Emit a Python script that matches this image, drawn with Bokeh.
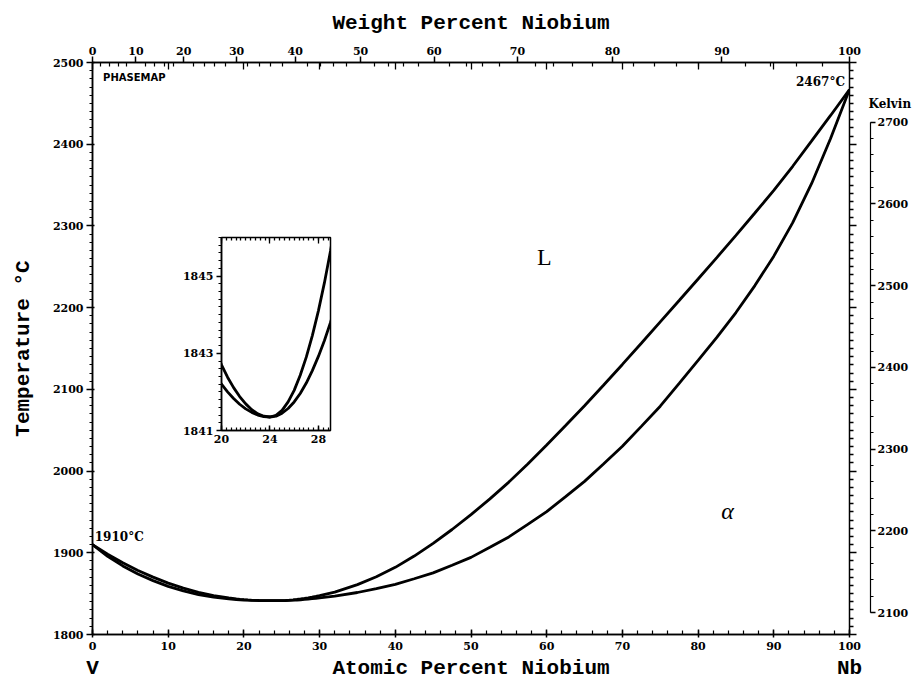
from bokeh.plotting import figure
from bokeh.models import (Range1d, LinearAxis, SingleIntervalTicker, FixedTicker,
                          CustomJSTickFormatter, Label)
from bokeh.layouts import column, row
from bokeh.embed import file_html
from bokeh.resources import INLINE

# ---------------- data ----------------
at_pct = [0, 2, 4, 6, 8, 10, 12, 14, 16, 18, 19, 19.5, 20, 20.5, 21, 21.5, 22, 22.5,
          23, 23.5, 24, 24.5, 25, 25.5, 26, 26.5, 27, 27.5, 28, 28.5, 29, 29.5, 30,
          32, 35, 37.5, 40, 42.5, 45, 47.5, 50, 52.5, 55, 57.5, 60, 62.5, 65, 67.5,
          70, 72.5, 75, 77.5, 80, 82.5, 85, 87.5, 90, 92.5, 95, 97.5, 100]
liquidus = [1910.0, 1898.2, 1887.7, 1878.4, 1870.2, 1862.9, 1856.7, 1851.6, 1847.6,
            1844.7, 1843.55, 1843.09, 1842.70, 1842.38, 1842.11, 1841.88, 1841.69,
            1841.54, 1841.43, 1841.37, 1841.35, 1841.39, 1841.52, 1841.74, 1842.04,
            1842.43, 1842.90, 1843.46, 1844.10, 1844.83, 1845.65, 1846.55, 1847.54,
            1851.8, 1861.0, 1870.6, 1882.2, 1896.0, 1911.6, 1928.5, 1946.7, 1966.0,
            1986.5, 2008.7, 2032.0, 2055.7, 2080.0, 2105.0, 2130.5, 2156.4, 2182.5,
            2208.7, 2235.0, 2261.6, 2288.5, 2315.8, 2343.5, 2373.0, 2404.0, 2435.2,
            2467.0]
solidus = [1910.0, 1895.7, 1883.9, 1874.1, 1865.9, 1858.9, 1853.3, 1848.9, 1845.7,
           1843.5, 1842.75, 1842.46, 1842.20, 1842.00, 1841.83, 1841.68, 1841.56,
           1841.47, 1841.40, 1841.36, 1841.35, 1841.37, 1841.45, 1841.57, 1841.74,
           1841.96, 1842.23, 1842.55, 1842.92, 1843.33, 1843.80, 1844.31, 1844.88,
           1847.0, 1851.4, 1856.2, 1861.4, 1868.2, 1875.4, 1884.7, 1894.4, 1906.7,
           1919.4, 1934.7, 1950.4, 1968.7, 1987.4, 2008.7, 2030.4, 2054.7, 2079.4,
           2107.2, 2135.4, 2164.0, 2194.0, 2227.0, 2263.0, 2304.0, 2352.0, 2407.0,
           2467.0]

at_major = [0, 10, 20, 30, 40, 50, 60, 70, 80, 90, 100]
wt_major = [0, 10, 20, 30, 40, 50, 60, 70, 80, 90, 100]
wt_minor = [w for w in range(0, 101, 2) if w % 10 != 0]
bottom_names = {0: "V", 50: "Atomic Percent Niobium", 100: "Nb"}
celsius_major = list(range(1800, 2501, 100))
celsius_minor = [t for t in range(1800, 2501, 10) if t % 100 != 0]
t_range = (1800, 2500)
kelvin_bounds = (2100, 2700)
inset_x = (20, 29)
inset_y = (1841, 1846)
inset_y_major = [1841, 1843, 1845]
inset_x_major = [20, 24, 28]

M_NB, M_V = 92.906, 50.942
K0 = 273.15

def wt_to_at(w):
    a = w / M_NB
    b = (100 - w) / M_V
    return 100.0 * a / (a + b)

FONT_T = "Liberation Mono"
FONT_N = "DejaVu Serif"

# ---------------- geometry ----------------
H = 684
P_W = 868
P_LEFT, P_TOP, P_BOT = 92, 62, 50
P_RIGHT = P_W - 849
K_W = 924 - P_W
K_TOP = 112
frame_h = H - P_TOP - P_BOT
k_frame_h = H - K_TOP - P_BOT
k_top_val = t_range[0] + K0 + (t_range[1] - t_range[0]) * k_frame_h / frame_h

# ---------------- main figure ----------------
p = figure(width=P_W, height=H, output_backend="svg", toolbar_location=None,
           x_range=Range1d(0, 100), y_range=Range1d(*t_range),
           x_axis_location=None, y_axis_location=None,
           min_border_left=P_LEFT, min_border_right=P_RIGHT,
           min_border_top=P_TOP, min_border_bottom=P_BOT)
p.xgrid.visible = False
p.ygrid.visible = False
p.outline_line_color = "black"
p.outline_line_width = 1.5
p.background_fill_color = "white"
p.border_fill_color = "white"

def style_axis(ax, size="11px"):
    ax.axis_line_color = "black"
    ax.axis_line_width = 1.5
    ax.major_tick_line_color = "black"
    ax.major_tick_line_width = 1.5
    ax.minor_tick_line_color = "black"
    ax.minor_tick_line_width = 1.2
    ax.major_label_text_font = FONT_N
    ax.major_label_text_font_style = "bold"
    ax.major_label_text_font_size = size
    ax.major_label_text_color = "black"
    ax.axis_label_text_font = FONT_T
    ax.axis_label_text_font_style = "bold"
    ax.axis_label_text_font_size = "21px"
    ax.axis_label_text_color = "black"

def tick_only(ticks, tin=0, tout=0, **kw):
    ax = LinearAxis(ticker=FixedTicker(ticks=[], minor_ticks=ticks), **kw)
    ax.axis_line_color = None
    ax.minor_tick_line_color = "black"
    ax.minor_tick_line_width = 1.3
    ax.minor_tick_in = tin
    ax.minor_tick_out = tout
    ax.major_tick_in = 0
    ax.major_tick_out = 0
    return ax

# bottom: atomic percent numbers
xb = LinearAxis(ticker=SingleIntervalTicker(interval=10, num_minor_ticks=5))
style_axis(xb)
xb.major_tick_in = 5
xb.major_tick_out = 3
xb.minor_tick_in = 4
xb.minor_tick_out = 0
xb.major_label_standoff = 4
p.add_layout(xb, "below")

# bottom: V ... Atomic Percent Niobium ... Nb
xb2 = LinearAxis(ticker=FixedTicker(ticks=list(bottom_names.keys())),
                 major_label_overrides=bottom_names)
xb2.axis_line_color = None
xb2.major_tick_in = 0
xb2.major_tick_out = 0
xb2.minor_tick_in = 0
xb2.minor_tick_out = 0
xb2.major_label_text_font = FONT_T
xb2.major_label_text_font_style = "bold"
xb2.major_label_text_font_size = "21px"
xb2.major_label_text_color = "black"
xb2.major_label_standoff = 4
p.add_layout(xb2, "below")

# left: temperature C
yl = LinearAxis(ticker=SingleIntervalTicker(interval=100, num_minor_ticks=10),
                axis_label="Temperature °C")
style_axis(yl)
yl.major_tick_in = 2
yl.major_tick_out = 6
yl.minor_tick_in = 0
yl.minor_tick_out = 3
yl.major_label_standoff = 3
yl.axis_label_standoff = 15
p.add_layout(yl, "left")

# top: inward atomic-percent ticks (no labels)
p.add_layout(tick_only(at_major, tin=7), "above")

# top: weight percent
xt = LinearAxis(ticker=FixedTicker(ticks=[round(wt_to_at(w), 4) for w in wt_major],
                                   minor_ticks=[round(wt_to_at(w), 4) for w in wt_minor]),
                axis_label="Weight Percent Niobium",
                formatter=CustomJSTickFormatter(code="""
                    const w = 100*tick*92.906/(tick*92.906 + (100-tick)*50.942);
                    return Math.round(w).toString();"""))
style_axis(xt)
xt.major_tick_in = 0
xt.major_tick_out = 6
xt.minor_tick_in = 4
xt.minor_tick_out = 0
xt.major_label_standoff = 2
xt.axis_label_standoff = 9
p.add_layout(xt, "above")

# right edge of frame: Celsius ticks, no labels
p.add_layout(tick_only(celsius_minor, tout=4), "right")
p.add_layout(tick_only(celsius_major, tin=4, tout=3), "right")

# curves
p.line(at_pct, liquidus, line_color="black", line_width=2.8)
p.line(at_pct, solidus, line_color="black", line_width=2.8)

def lab(x, y, text, font=FONT_N, size="12px", style="bold", align="left"):
    p.add_layout(Label(x=x, y=y, text=text, text_font=font, text_font_size=size,
                       text_font_style=style, text_align=align, text_baseline="bottom",
                       text_color="black"))

lab(0.3, 1910.8, "1910°C")
lab(99.4, 2467.6, "2467°C", align="right")
lab(1.4, 2475.0, "PHASEMAP", font="DejaVu Sans", size="10px")
lab(59.7, 2245.5, "L", font="Liberation Serif", size="24px", style="normal", align="center")
lab(83.9, 1935.8, "α", font="Liberation Serif", size="24px", style="italic", align="center")

# ---------------- Kelvin scale ----------------
k = figure(width=K_W, height=H, output_backend="svg", toolbar_location=None,
           x_range=Range1d(0, 1), y_range=Range1d(t_range[0] + K0, k_top_val),
           x_axis_location=None, y_axis_location=None,
           min_border_left=0, min_border_right=K_W - 2,
           min_border_top=K_TOP, min_border_bottom=P_BOT, title="Kelvin")
k.xgrid.visible = False
k.ygrid.visible = False
k.outline_line_color = None
k.background_fill_color = "white"
k.border_fill_color = "white"
k.title.text_font = FONT_N
k.title.text_font_style = "bold"
k.title.text_font_size = "12px"
k.title.text_color = "black"
k.title.align = "left"
k.title.offset = 0
k.title.standoff = 3

yk = LinearAxis(bounds=kelvin_bounds,
                ticker=SingleIntervalTicker(interval=100, num_minor_ticks=5))
style_axis(yk)
yk.axis_line_width = 1.2
yk.major_tick_in = 0
yk.major_tick_out = 5
yk.minor_tick_in = 0
yk.minor_tick_out = 3
yk.major_label_standoff = 2
k.add_layout(yk, "right")

# ---------------- inset ----------------
IL, IR, IT, IB = 42, 4, 4, 22
IW, IH = 109, 193
q = figure(width=IL + IW + IR, height=IT + IH + IB, output_backend="svg",
           toolbar_location=None, x_range=Range1d(*inset_x), y_range=Range1d(*inset_y),
           x_axis_location=None, y_axis_location=None,
           min_border_left=IL, min_border_right=IR, min_border_top=IT, min_border_bottom=IB)
q.xgrid.visible = False
q.ygrid.visible = False
q.outline_line_color = "black"
q.outline_line_width = 1.5
q.background_fill_color = "white"
q.border_fill_color = None

qb = LinearAxis(ticker=FixedTicker(ticks=inset_x_major,
                                   minor_ticks=[inset_x[0] + 0.4 * i for i in range(23)]))
style_axis(qb)
qb.major_tick_in = 5
qb.major_tick_out = 0
qb.minor_tick_in = 3
qb.minor_tick_out = 0
qb.major_label_standoff = 4
q.add_layout(qb, "below")

ql = LinearAxis(ticker=FixedTicker(ticks=inset_y_major,
                                   minor_ticks=[inset_y[0] + 0.2 * i for i in range(26)]))
style_axis(ql)
ql.major_tick_in = 0
ql.major_tick_out = 5
ql.minor_tick_in = 0
ql.minor_tick_out = 3
ql.major_label_standoff = 3
q.add_layout(ql, "left")

q.add_layout(tick_only(inset_x_major, tin=6), "above")
q.add_layout(tick_only([inset_x[0] + 0.4 * i for i in range(23)], tin=3), "above")

q.line(at_pct, liquidus, line_color="black", line_width=2.8)
q.line(at_pct, solidus, line_color="black", line_width=2.8)

# ---------------- overlay composition ----------------
rp = row(p)
rk = row(k)
rk.margin = (-H, 0, 0, P_W)
rq = row(q)
rq.margin = (237 - IT - H, 0, 0, 221 - IL)

layout = column(rp, rk, rq)
open("out.html", "w").write(file_html(layout, INLINE))
